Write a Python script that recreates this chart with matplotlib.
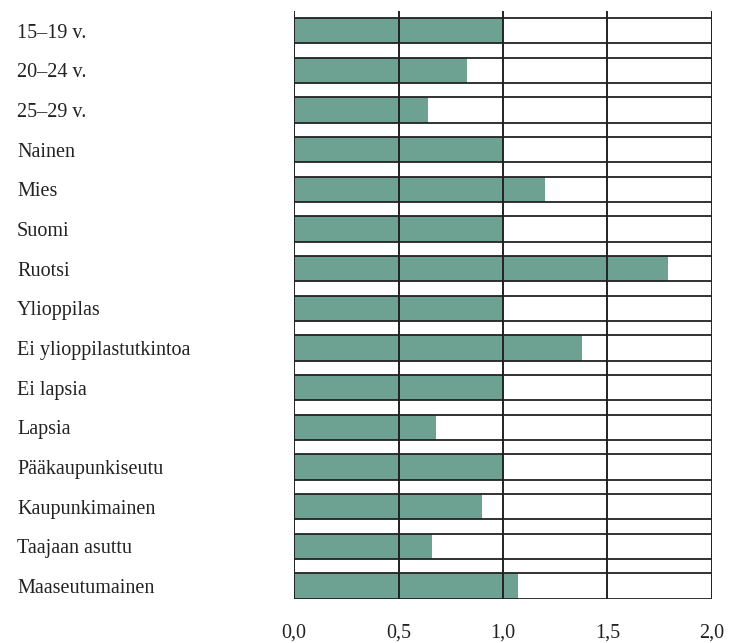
import matplotlib
matplotlib.use('Agg')
import matplotlib.pyplot as plt

categories = ["15–19 v.", "20–24 v.", "25–29 v.", "Nainen", "Mies", "Suomi", "Ruotsi",
              "Ylioppilas", "Ei ylioppilastutkintoa", "Ei lapsia", "Lapsia",
              "Pääkaupunkiseutu", "Kaupunkimainen", "Taajaan asuttu", "Maaseutumainen"]
values = [1.00, 0.83, 0.64, 1.00, 1.20, 1.00, 1.79,
          1.00, 1.38, 1.00, 0.68, 1.00, 0.90, 0.66, 1.07]
x_ticks = [0.0, 0.5, 1.0, 1.5, 2.0]
x_tick_labels = ["0,0", "0,5", "1,0", "1,5", "2,0"]

plt.rcParams['font.family'] = ['Liberation Serif', 'DejaVu Serif']

fig = plt.figure(figsize=(7.34, 6.43), dpi=100)
ax = fig.add_axes([294 / 734, 44.3 / 643, 418 / 734, 588 / 643])

rows = list(range(len(categories)))
bar_h = 0.64
line_c = '#222222'

# white box for every row, green bar, then outline + gridlines on top
ax.barh(rows, [2.0] * len(rows), height=bar_h, color='white', zorder=1)
ax.barh(rows, values, height=bar_h, color='#6DA292', zorder=2)
ax.barh(rows, [2.0] * len(rows), height=bar_h, fill=False,
        edgecolor=line_c, linewidth=1.3, zorder=3)
for x in x_ticks:
    ax.axvline(x, color=line_c, linewidth=1.4, zorder=4)

ax.set_xlim(0, 2.0)
ax.set_ylim(len(rows) - 1 + bar_h / 2, -0.5)

ax.set_yticks(rows)
ax.set_yticklabels(categories, ha='left', fontsize=14.5, color='#222222')
ax.tick_params(axis='y', length=0, pad=199.4)
ax.set_xticks(x_ticks)
ax.set_xticklabels(x_tick_labels, fontsize=14.5, color='#222222')
ax.tick_params(axis='x', length=0, pad=18)

for s in ax.spines.values():
    s.set_visible(False)

fig.savefig('out.png', dpi=100)
